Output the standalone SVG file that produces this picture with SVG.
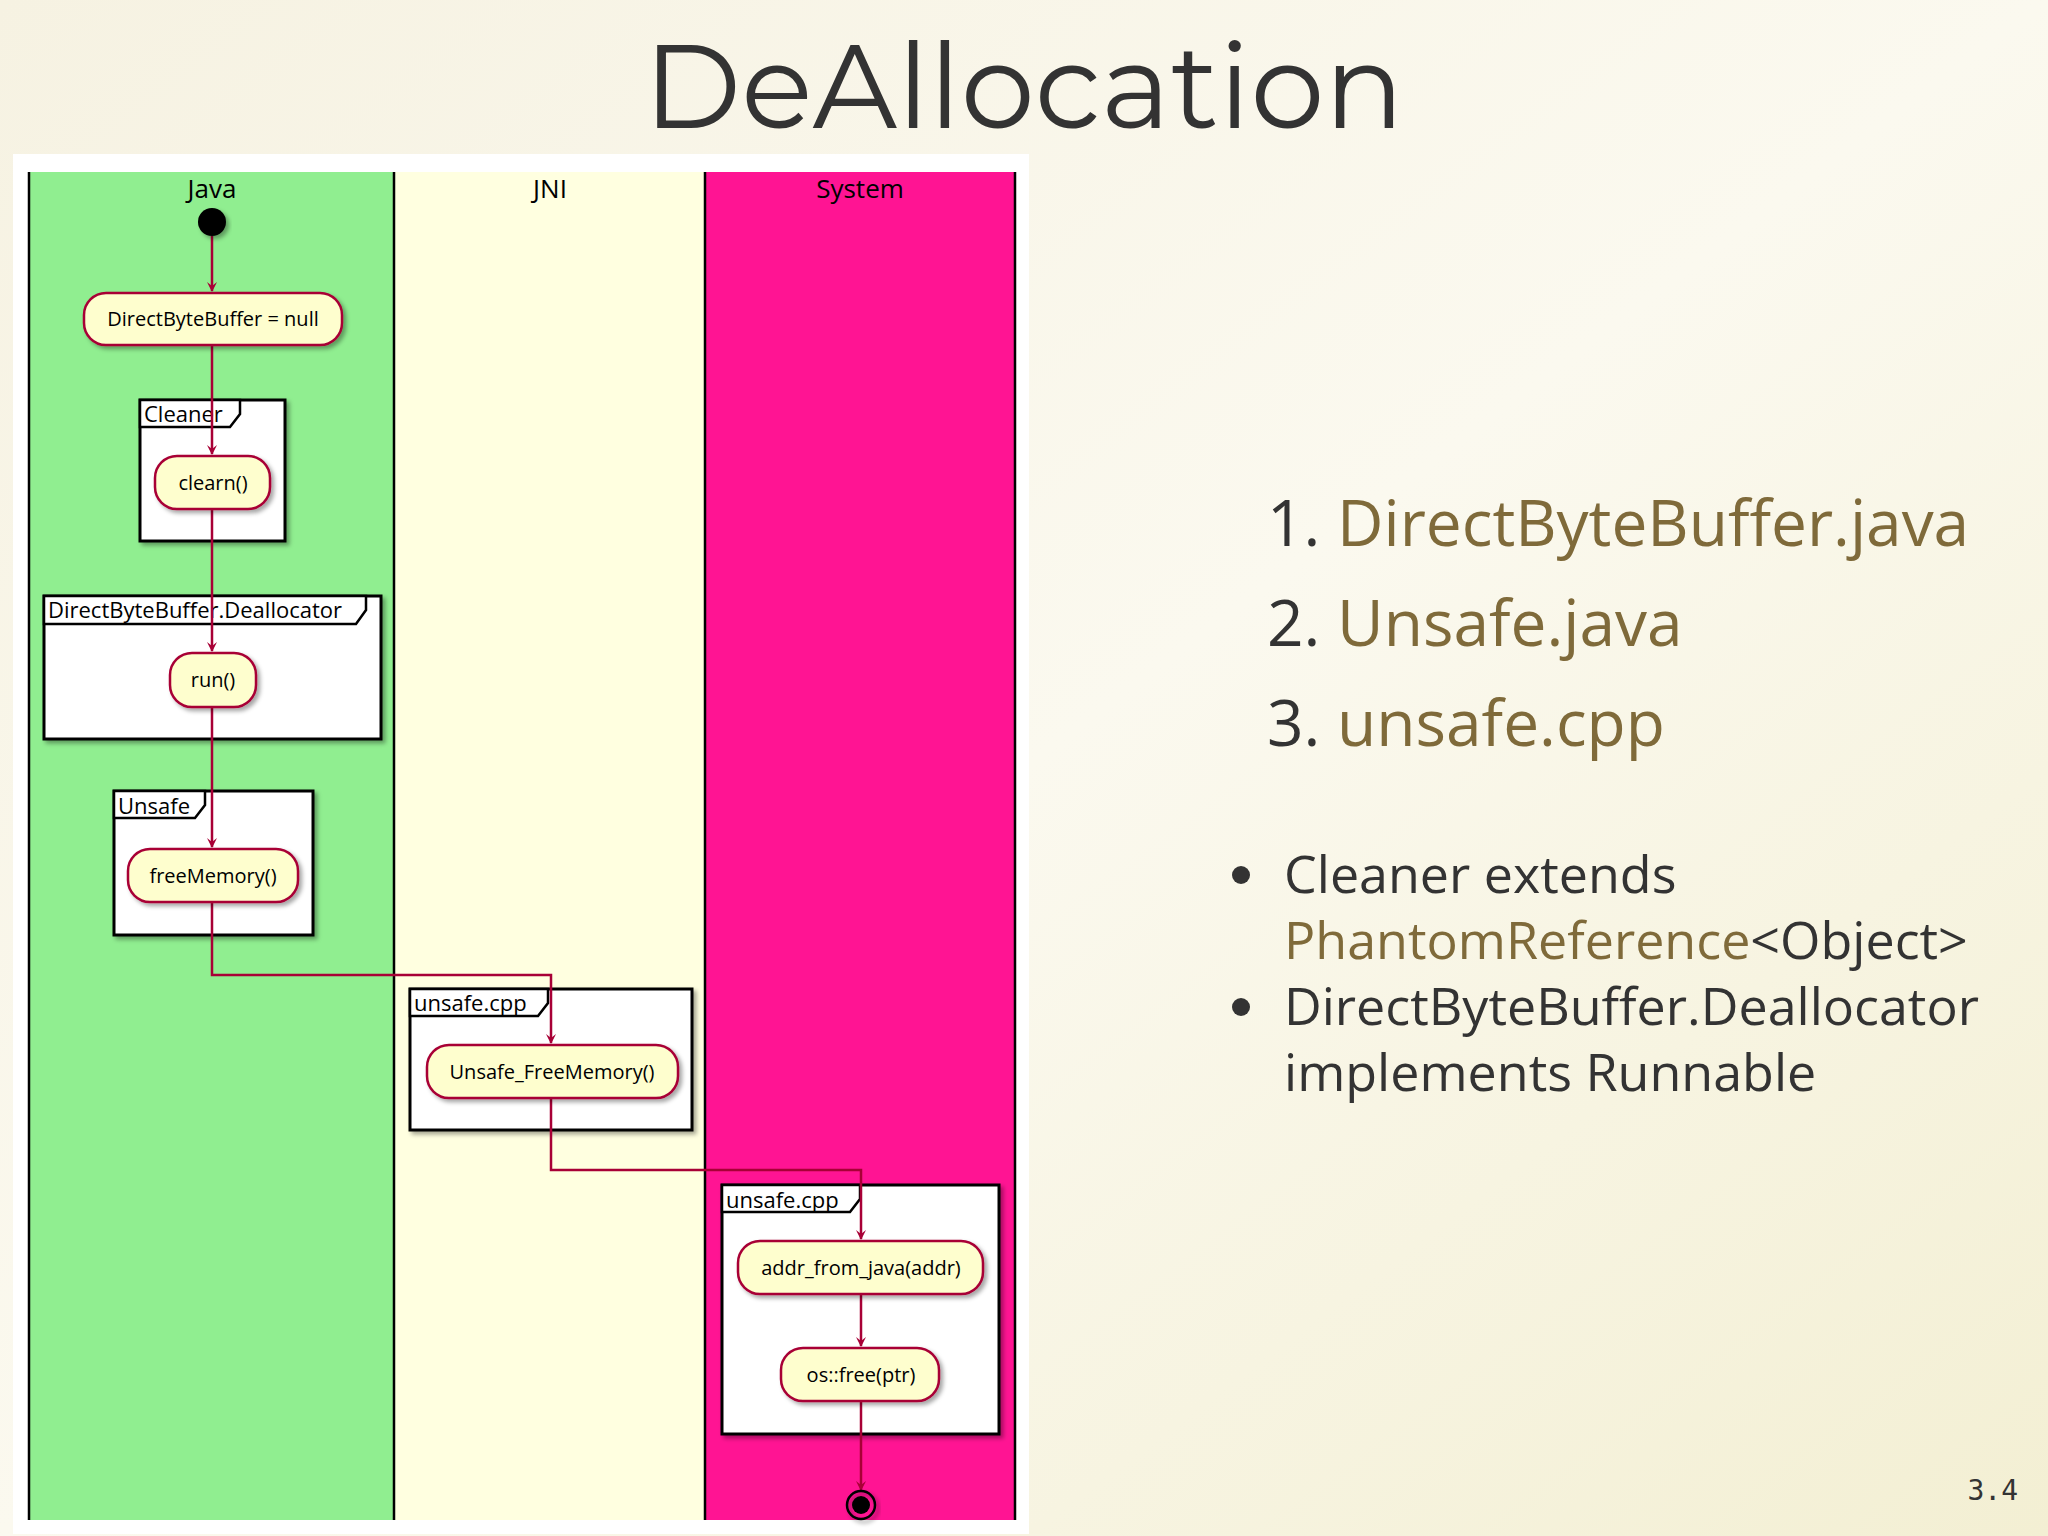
<svg xmlns="http://www.w3.org/2000/svg" width="2048" height="1536" viewBox="0 0 2048 1536">
<defs>
<linearGradient id="bg" x1="0" y1="0" x2="1" y2="1"><stop offset="0" stop-color="#f6f2e2"/><stop offset="0.5" stop-color="#fbf9ef"/><stop offset="1" stop-color="#f3efd3"/></linearGradient>
<marker id="ah" viewBox="0 0 10 10" refX="9" refY="5" markerWidth="10" markerHeight="10" orient="auto" markerUnits="userSpaceOnUse"><path d="M0,0 L10,5 L0,10 L4,5 Z" fill="#A80036"/></marker>
<filter id="sh" x="-10%" y="-10%" width="130%" height="140%"><feDropShadow dx="3" dy="3" stdDeviation="2" flood-color="#000" flood-opacity="0.35"/></filter>
</defs>
<style>
.lane{stroke:#000;stroke-width:2.5}
.hd{font-family:"Open Sans","DejaVu Sans",sans-serif;font-size:26px;text-anchor:middle;fill:#000}
.frame{fill:#fff;stroke:#000;stroke-width:3;filter:url(#sh)}
.tab{fill:#fff;stroke:#000;stroke-width:2.5}
.ft{font-family:"Open Sans","DejaVu Sans",sans-serif;font-size:22px;fill:#000}
.act{fill:#FEFECE;stroke:#A80036;stroke-width:2.5;filter:url(#sh)}
.at{font-family:"Open Sans","DejaVu Sans",sans-serif;font-size:20px;fill:#000;text-anchor:middle}
.ln{fill:none;stroke:#A80036;stroke-width:2.5}
.li{font-family:"Open Sans","DejaVu Sans",sans-serif;font-size:64px;fill:#333}
.bl{font-family:"Open Sans","DejaVu Sans",sans-serif;font-size:52px;fill:#333}
.br{fill:#7f6a3a}
</style>
<rect width="2048" height="1536" fill="url(#bg)"/>
<text x="1024" y="128" font-family="Montserrat,'Open Sans','DejaVu Sans',sans-serif" font-size="118" fill="#333" text-anchor="middle">DeAllocation</text>
<rect x="13" y="154" width="1016" height="1380" fill="#fff"/>
<g id="lanes">
<rect x="29" y="172" width="365" height="1348" fill="#90EE90"/>
<rect x="394" y="172" width="311" height="1348" fill="#FFFFE0"/>
<rect x="705" y="172" width="310" height="1348" fill="#FF1493"/>
<line class="lane" x1="29" y1="172" x2="29" y2="1520"/>
<line class="lane" x1="394" y1="172" x2="394" y2="1520"/>
<line class="lane" x1="705" y1="172" x2="705" y2="1520"/>
<line class="lane" x1="1015" y1="172" x2="1015" y2="1520"/>
<text class="hd" x="212" y="198">Java</text>
<text class="hd" x="550" y="198">JNI</text>
<text class="hd" x="860" y="198">System</text>
</g>
<g id="frames">
<rect class="frame" x="140" y="400" width="145" height="141"/>
<path class="tab" d="M140,400 H240 V414 L230,427 H140 Z"/><text class="ft" x="144" y="422">Cleaner</text>
<rect class="frame" x="44" y="596" width="337" height="143"/>
<path class="tab" d="M44,596 H366 V610 L356,624 H44 Z"/><text class="ft" x="48" y="618">DirectByteBuffer.Deallocator</text>
<rect class="frame" x="114" y="791" width="199" height="144"/>
<path class="tab" d="M114,791 H205 V805 L195,818 H114 Z"/><text class="ft" x="118" y="814">Unsafe</text>
<rect class="frame" x="410" y="989" width="282" height="141"/>
<path class="tab" d="M410,989 H548 V1003 L538,1016 H410 Z"/><text class="ft" x="414" y="1011">unsafe.cpp</text>
<rect class="frame" x="722" y="1185" width="277" height="249"/>
<path class="tab" d="M722,1185 H860 V1199 L850,1212 H722 Z"/><text class="ft" x="726" y="1208">unsafe.cpp</text>
</g>
<g id="connectors">
<path class="ln" d="M212,236 V291" marker-end="url(#ah)"/>
<path class="ln" d="M212,345 V454" marker-end="url(#ah)"/>
<path class="ln" d="M212,509 V651" marker-end="url(#ah)"/>
<path class="ln" d="M212,707 V847" marker-end="url(#ah)"/>
<path class="ln" d="M212,902 V975 H551 V1043" marker-end="url(#ah)"/>
<path class="ln" d="M551,1098 V1170 H861 V1239" marker-end="url(#ah)"/>
<path class="ln" d="M861,1294 V1346" marker-end="url(#ah)"/>
<path class="ln" d="M861,1401 V1490" marker-end="url(#ah)"/>
</g>
<g id="start"><circle cx="212" cy="222" r="14" fill="#000" filter="url(#sh)"/></g>
<g id="n1"><rect class="act" x="84" y="293" width="258" height="52" rx="22"/><text class="at" x="213" y="326">DirectByteBuffer = null</text></g>
<g id="n2"><rect class="act" x="155" y="456" width="115" height="53" rx="22"/><text class="at" x="213" y="490">clearn()</text></g>
<g id="n3"><rect class="act" x="170" y="653" width="86" height="54" rx="22"/><text class="at" x="213" y="687">run()</text></g>
<g id="n4"><rect class="act" x="128" y="849" width="170" height="53" rx="22"/><text class="at" x="213" y="883">freeMemory()</text></g>
<g id="n5"><rect class="act" x="427" y="1045" width="251" height="53" rx="22"/><text class="at" x="552" y="1079">Unsafe_FreeMemory()</text></g>
<g id="n6"><rect class="act" x="738" y="1241" width="245" height="53" rx="22"/><text class="at" x="861" y="1275">addr_from_java(addr)</text></g>
<g id="n7"><rect class="act" x="781" y="1348" width="158" height="53" rx="22"/><text class="at" x="861" y="1382">os::free(ptr)</text></g>
<g id="end"><circle cx="861" cy="1505" r="14" fill="none" stroke="#000" stroke-width="2.5" filter="url(#sh)"/><circle cx="861" cy="1505" r="9" fill="#000"/></g>
<g id="list">
<text class="li" x="1267" y="546">1. <tspan class="br">DirectByteBuffer.java</tspan></text>
<text class="li" x="1267" y="646">2. <tspan class="br">Unsafe.java</tspan></text>
<text class="li" x="1267" y="746">3. <tspan class="br">unsafe.cpp</tspan></text>
<circle cx="1241" cy="875" r="9" fill="#333"/>
<text class="bl" x="1284" y="893">Cleaner extends</text>
<text class="bl" x="1284" y="959"><tspan class="br">PhantomReference</tspan>&lt;Object&gt;</text>
<circle cx="1241" cy="1007" r="9" fill="#333"/>
<text class="bl" x="1284" y="1025">DirectByteBuffer.Deallocator</text>
<text class="bl" x="1284" y="1091">implements Runnable</text>
</g>
<text x="2018" y="1500" font-family="'DejaVu Sans Mono',monospace" font-size="28" fill="#333" text-anchor="end">3.4</text>
</svg>
